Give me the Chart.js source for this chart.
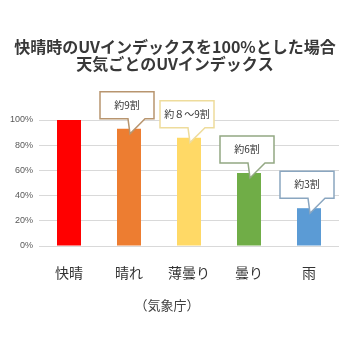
<!DOCTYPE html>
<html><head><meta charset="utf-8">
<script src="https://cdn.jsdelivr.net/npm/chart.js@4/dist/chart.umd.min.js"></script>
<style>html,body{margin:0;padding:0;background:#fff}#wrap{width:349px;height:349px;position:relative}</style>
</head><body><div id="wrap"><canvas id="c" width="349" height="349"></canvas></div>
<script>
const titleLines = ['快晴時のUVインデックスを100%とした場合', '天気ごとのUVインデックス'];
const categories = ['快晴', '晴れ', '薄曇り', '曇り', '雨'];
const uvPercent = [100, 93, 86, 58, 30];
const calloutLabels = [null, '約9割', '約８～9割', '約6割', '約3割'];
const yTickStep = 20;
const yMax = 100;
const sourceNote = '（気象庁）';

const barColors = ['#FF0000', '#ED7D31', '#FFD966', '#70AD47', '#5B9BD5'];
const calloutBorders = [null, '#B8956F', '#EEDC9C', '#93A883', '#8AA6C0'];
const CJK = '"Noto Sans CJK JP", "Noto Sans", sans-serif';

const textPlugin = {
  id: 'texts',
  afterDatasetsDraw(chart) {
    const ctx = chart.ctx;
    const meta = chart.getDatasetMeta(0);
    ctx.save();
    meta.data.forEach((bar, i) => {
      const label = calloutLabels[i];
      if (!label) return;
      const bx = bar.x, by = bar.y;
      const L = bx - 29, R = bx + 25, B = by - 10, T = B - 27;
      const tipX = bx + 1, tipY = by + 5;
      const b1 = bx - 1, b2 = bx + 16;
      ctx.beginPath();
      ctx.moveTo(L, T); ctx.lineTo(R, T); ctx.lineTo(R, B);
      ctx.lineTo(b2, B); ctx.lineTo(tipX, tipY); ctx.lineTo(b1, B);
      ctx.lineTo(L, B); ctx.closePath();
      ctx.fillStyle = '#FFFFFF';
      ctx.fill();
      ctx.lineWidth = 1.5;
      ctx.strokeStyle = calloutBorders[i];
      ctx.stroke();
      ctx.fillStyle = '#333333';
      ctx.font = '10px ' + CJK;
      ctx.textAlign = 'center';
      ctx.textBaseline = 'middle';
      ctx.fillText(label, (L + R) / 2, (T + B) / 2);
    });
    ctx.restore();
  },
  afterDraw(chart) {
    const ctx = chart.ctx;
    ctx.save();
    ctx.fillStyle = '#383838';
    ctx.font = 'bold 16px ' + CJK;
    ctx.textAlign = 'center';
    ctx.textBaseline = 'middle';
    ctx.fillText(titleLines[0], 175, 47);
    ctx.fillText(titleLines[1], 175, 64);
    ctx.fillStyle = '#404040';
    ctx.font = '13px ' + CJK;
    ctx.fillText(sourceNote, 167, 305);
    ctx.restore();
  }
};

new Chart(document.getElementById('c'), {
  type: 'bar',
  data: {
    labels: categories,
    datasets: [{
      data: uvPercent,
      backgroundColor: barColors,
      borderWidth: 0,
      barPercentage: 0.4,
      categoryPercentage: 1.0
    }]
  },
  options: {
    responsive: false,
    animation: false,
    devicePixelRatio: 1,
    layout: { padding: { top: 120, right: 10, bottom: 63, left: 0 } },
    plugins: { legend: { display: false }, tooltip: { enabled: false }, title: { display: false } },
    scales: {
      x: {
        grid: { display: false, drawTicks: false },
        border: { display: false },
        ticks: { color: '#333333', font: { family: CJK, size: 14 }, padding: 18 },
        afterFit(scale) { scale.height = 40; }
      },
      y: {
        min: 0, max: yMax,
        grid: { color: '#D9D9D9', drawTicks: false, lineWidth: 1 },
        border: { display: false },
        ticks: {
          stepSize: yTickStep,
          color: '#595959',
          font: { family: '"Liberation Sans", Arial, sans-serif', size: 9 },
          padding: 6,
          callback: v => v + '%'
        },
        afterFit(scale) { scale.width = 39; }
      }
    }
  },
  plugins: [textPlugin]
});
</script>
</body></html>
